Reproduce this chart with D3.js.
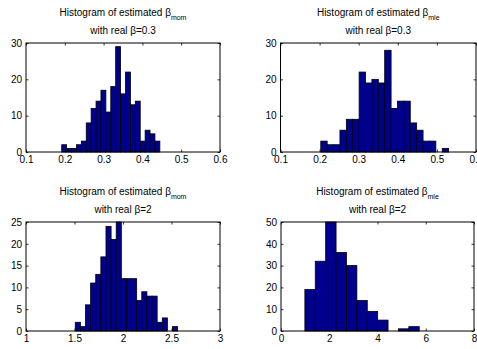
<!DOCTYPE html>
<html>
<head>
<meta charset="utf-8">
<script src="https://cdn.jsdelivr.net/npm/d3@7"></script>
<style>
  html, body { margin: 0; padding: 0; background: #fff; }
  svg { display: block; }
  text { font-family: "Liberation Sans", Arial, sans-serif; fill: #000; }
</style>
</head>
<body>
<svg id="fig" width="477" height="349"></svg>
<script>
// Histogram counts (20 equal bins between the min and max estimate)
const momCounts03 = [2, 1, 1, 2, 3, 8, 12, 14, 17, 11, 18, 29, 16, 22, 13, 14, 3, 6, 5, 3];
const mleCounts03 = [3, 2, 2, 6, 9, 9, 22, 19, 20, 19, 28, 12, 14, 14, 8, 6, 3, 3, 0, 1];
const momCounts2  = [2, 1, 6, 11, 13, 17, 24, 21, 25, 12, 12, 12, 7, 9, 8, 8, 2, 3, 0, 1];
const mleCounts2  = [19, 32, 50, 36, 30, 14, 9, 5, 0, 1, 2];

// Range of the estimates covered by the bins
const momRange03 = [0.192, 0.445];
const mleRange03 = [0.203, 0.530];
const momRange2  = [1.508, 2.563];
const mleRange2  = [0.99, 5.73];

// Axis limits and ticks
const xTicks03 = [0.1, 0.2, 0.3, 0.4, 0.5, 0.6];
const xTicksMom2 = [1, 1.5, 2, 2.5, 3];
const xTicksMle2 = [0, 2, 4, 6, 8];
const yTicks30 = [0, 10, 20, 30];
const yTicks25 = [0, 5, 10, 15, 20, 25];
const yTicks50 = [0, 10, 20, 30, 40, 50];

const estimators = ["mom", "mle"];
const realBetas = ["0.3", "2"];

const panels = [
  { est: estimators[0], beta: realBetas[0], counts: momCounts03, range: momRange03,
    xTicks: xTicks03, yTicks: yTicks30, box: [26, 220, 43, 152] },
  { est: estimators[1], beta: realBetas[0], counts: mleCounts03, range: mleRange03,
    xTicks: xTicks03, yTicks: yTicks30, box: [280.5, 476, 43, 152] },
  { est: estimators[0], beta: realBetas[1], counts: momCounts2, range: momRange2,
    xTicks: xTicksMom2, yTicks: yTicks25, box: [26, 220, 222, 331] },
  { est: estimators[1], beta: realBetas[1], counts: mleCounts2, range: mleRange2,
    xTicks: xTicksMle2, yTicks: yTicks50, box: [281, 474, 222, 331] }
];

const svg = d3.select("#fig");
const barFill = "rgb(0,0,143)";
const fontSize = 10;
const tickLen = 2.5;

panels.forEach(p => {
  const [x0, x1, y0, y1] = p.box;
  const x = d3.scaleLinear()
    .domain([p.xTicks[0], p.xTicks[p.xTicks.length - 1]])
    .range([x0, x1]);
  const y = d3.scaleLinear()
    .domain([p.yTicks[0], p.yTicks[p.yTicks.length - 1]])
    .range([y1, y0]);

  const g = svg.append("g");

  // bins
  const n = p.counts.length;
  const w = (p.range[1] - p.range[0]) / n;
  const bins = p.counts.map((c, i) => ({ lo: p.range[0] + i * w, hi: p.range[0] + (i + 1) * w, c }));

  g.append("g").selectAll("rect")
    .data(bins)
    .join("rect")
    .attr("x", d => x(d.lo))
    .attr("y", d => y(d.c))
    .attr("width", d => x(d.hi) - x(d.lo))
    .attr("height", d => y(0) - y(d.c))
    .attr("fill", barFill)
    .attr("stroke", "#000")
    .attr("stroke-width", 0.8);

  // bottom / left axes with inward ticks, mirrored on top / right
  const xAxis = d3.axisBottom(x).tickValues(p.xTicks).tickSize(-tickLen).tickPadding(4)
    .tickFormat(d3.format("~g"));
  const yAxis = d3.axisLeft(y).tickValues(p.yTicks).tickSize(-tickLen).tickPadding(4)
    .tickFormat(d3.format("~g"));
  const xTop = d3.axisTop(x).tickValues(p.xTicks).tickSize(-tickLen).tickFormat("");
  const yRight = d3.axisRight(y).tickValues(p.yTicks).tickSize(-tickLen).tickFormat("");

  const styleAxis = sel => {
    sel.select(".domain").remove();
    sel.selectAll("line").attr("stroke", "#000").attr("stroke-width", 0.8);
    sel.selectAll("text").attr("font-size", fontSize).attr("fill", "#000")
      .style("font-family", "'Liberation Sans', Arial, sans-serif");
  };

  g.append("g").attr("transform", `translate(0,${y1})`).call(xAxis).call(styleAxis);
  g.append("g").attr("transform", `translate(${x0},0)`).call(yAxis).call(styleAxis);
  g.append("g").attr("transform", `translate(0,${y0})`).call(xTop).call(styleAxis);
  g.append("g").attr("transform", `translate(${x1},0)`).call(yRight).call(styleAxis);

  // axes box
  g.append("rect")
    .attr("x", x0).attr("y", y0)
    .attr("width", x1 - x0).attr("height", y1 - y0)
    .attr("fill", "none").attr("stroke", "#000").attr("stroke-width", 1);

  // two-line title with subscripted estimator name
  const cx = (x0 + x1) / 2;
  const t1 = g.append("text")
    .attr("x", cx).attr("y", y0 - 27)
    .attr("text-anchor", "middle")
    .attr("font-size", fontSize);
  t1.append("tspan").text("Histogram of estimated \u03B2");
  t1.append("tspan").attr("dy", 3.5).attr("font-size", 7).text(p.est);

  g.append("text")
    .attr("x", cx).attr("y", y0 - 9)
    .attr("text-anchor", "middle")
    .attr("font-size", fontSize)
    .text(`with real \u03B2=${p.beta}`);
});
</script>
</body>
</html>
